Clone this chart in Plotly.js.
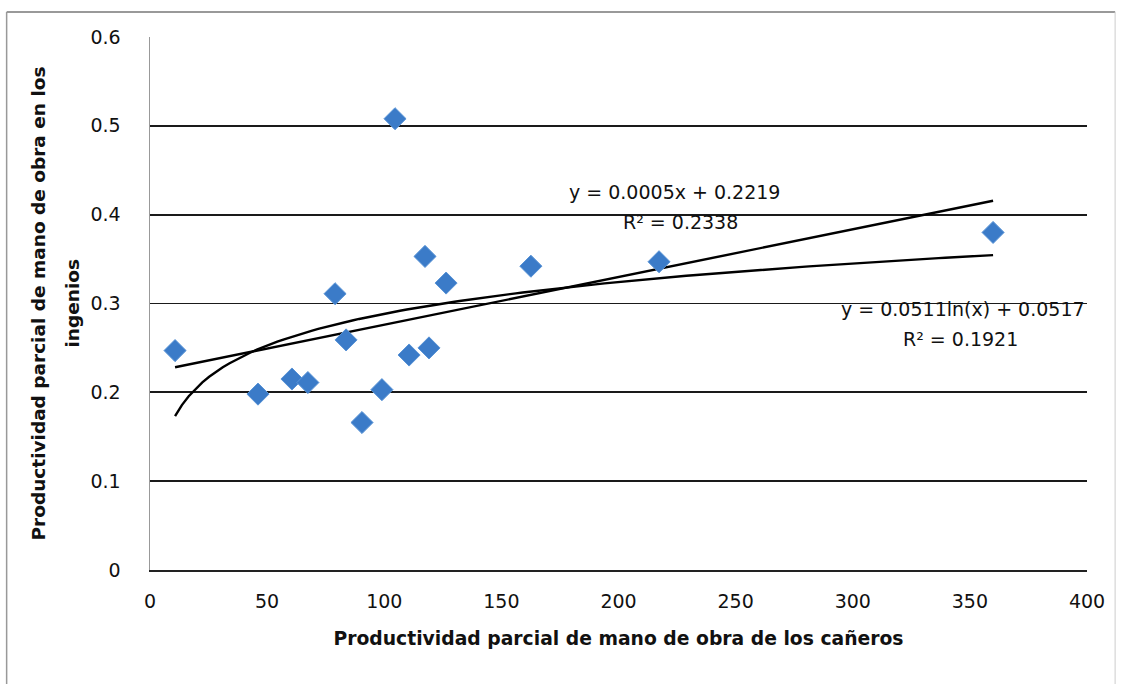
<!DOCTYPE html>
<html>
<head>
<meta charset="utf-8">
<script src="https://cdn.plot.ly/plotly-3.0.1.min.js"></script>
<style>
  html, body { margin: 0; padding: 0; background: #fff; }
  #chart { width: 1125px; height: 684px; }
</style>
</head>
<body>
<div id="chart"></div>
<script>
// Productividad parcial de mano de obra: cañeros (x) vs. ingenios (y)
const canerosX = [10.7, 46.1, 60.6, 67.4, 79.0, 83.7, 90.5, 99.0, 104.6, 110.6, 117.4, 119.1, 126.4, 162.6, 217.3, 359.9];
const ingeniosY = [0.247, 0.198, 0.215, 0.211, 0.311, 0.259, 0.166, 0.203, 0.508, 0.242, 0.353, 0.250, 0.323, 0.342, 0.347, 0.380];

const xTicks = [0, 50, 100, 150, 200, 250, 300, 350, 400];
const yTicks = [0, 0.1, 0.2, 0.3, 0.4, 0.5, 0.6];
const yTickLabels = ['0', '0.1', '0.2', '0.3', '0.4', '0.5', '0.6'];

const xTitle = 'Productividad parcial de mano de obra de los cañeros';
const yTitleLines = ['Productividad parcial de mano de obra en los', 'ingenios'];

const linearLabel = ['y = 0.0005x + 0.2219', 'R² = 0.2338'];
const logLabel = ['y = 0.0511ln(x) + 0.0517', 'R² = 0.1921'];

// Least-squares fit of y on u (u = x for linear, u = ln x for logarithmic)
function fit(u, y) {
  const n = u.length;
  const mu = u.reduce((a, b) => a + b, 0) / n;
  const my = y.reduce((a, b) => a + b, 0) / n;
  let sxy = 0, sxx = 0;
  for (let i = 0; i < n; i++) { sxy += (u[i] - mu) * (y[i] - my); sxx += (u[i] - mu) ** 2; }
  const b = sxy / sxx;
  return { slope: b, intercept: my - b * mu };
}

const xMin = Math.min(...canerosX), xMax = Math.max(...canerosX);
const lin = fit(canerosX, ingeniosY);
const lg = fit(canerosX.map(Math.log), ingeniosY);

const steps = 120;
const trendX = [];
for (let i = 0; i <= steps; i++) trendX.push(xMin + (xMax - xMin) * i / steps);
const linY = trendX.map(x => lin.intercept + lin.slope * x);
const logY = trendX.map(x => lg.intercept + lg.slope * Math.log(x));

const font = '"DejaVu Sans", sans-serif';
const ink = '#111';

const traces = [
  {
    x: trendX, y: linY, type: 'scatter', mode: 'lines',
    line: { color: '#000', width: 2.4 }, hoverinfo: 'skip', showlegend: false
  },
  {
    x: trendX, y: logY, type: 'scatter', mode: 'lines',
    line: { color: '#000', width: 2.4 }, hoverinfo: 'skip', showlegend: false
  },
  {
    x: canerosX, y: ingeniosY, type: 'scatter', mode: 'markers',
    marker: { symbol: 'diamond', size: 17, color: '#3b7bc8', line: { color: '#5a94d6', width: 1 } },
    showlegend: false
  }
];

const eqFont = { size: 19, family: font, color: ink };
const titleFont = { size: 18.5, family: font, color: ink };

const layout = {
  width: 1125, height: 684,
  margin: { l: 150, r: 38, t: 37, b: 114 },
  paper_bgcolor: '#fff', plot_bgcolor: '#fff',
  font: { family: font, color: ink },
  showlegend: false,
  xaxis: {
    range: [0, 400], tickvals: xTicks, ticktext: xTicks.map(String),
    showgrid: false, zeroline: false,
    showline: true, linecolor: '#222', linewidth: 1.5,
    ticks: '', tickfont: { size: 19, family: font, color: ink }, ticklabelstandoff: 14,
    title: { text: '<b>' + xTitle + '</b>',
             font: { size: 18.75, family: font, color: ink }, standoff: 20 }
  },
  yaxis: {
    range: [0, 0.6], tickvals: yTicks, ticktext: yTickLabels,
    showgrid: true, gridcolor: '#1a1a1a', gridwidth: 1.8, zeroline: false,
    showline: true, linecolor: '#999', linewidth: 1.5,
    ticks: '', tickfont: { size: 19, family: font, color: ink }, ticklabelstandoff: 24
  },
  annotations: [
    // y-axis title, one annotation per line
    { x: -0.1185, y: 0.5, xref: 'paper', yref: 'paper', xanchor: 'center', yanchor: 'middle',
      textangle: -90, text: '<b>' + yTitleLines[0] + '</b>', showarrow: false, font: titleFont },
    { x: -0.0832, y: 0.5, xref: 'paper', yref: 'paper', xanchor: 'center', yanchor: 'middle',
      textangle: -90, text: '<b>' + yTitleLines[1] + '</b>', showarrow: false, font: titleFont },
    // trendline equations
    { x: 224, y: 0.426, xref: 'x', yref: 'y', xanchor: 'center', yanchor: 'middle',
      text: linearLabel[0], showarrow: false, font: eqFont },
    { x: 226.5, y: 0.392, xref: 'x', yref: 'y', xanchor: 'center', yanchor: 'middle',
      text: linearLabel[1], showarrow: false, font: eqFont },
    { x: 347, y: 0.294, xref: 'x', yref: 'y', xanchor: 'center', yanchor: 'middle',
      text: logLabel[0], showarrow: false, font: eqFont },
    { x: 346, y: 0.260, xref: 'x', yref: 'y', xanchor: 'center', yanchor: 'middle',
      text: logLabel[1], showarrow: false, font: eqFont }
  ],
  shapes: [
    // outer chart frame: top, left and right edges
    { type: 'line', xref: 'paper', yref: 'paper', x0: -0.153, x1: 1.03, y0: 1.047, y1: 1.047,
      line: { color: '#777', width: 1.5 } },
    { type: 'line', xref: 'paper', yref: 'paper', x0: -0.153, x1: -0.153, y0: 1.047, y1: -0.22,
      line: { color: '#999', width: 1.5 } },
    { type: 'line', xref: 'paper', yref: 'paper', x0: 1.03, x1: 1.03, y0: 1.047, y1: -0.22,
      line: { color: '#ccc', width: 1 } }
  ]
};

Plotly.newPlot('chart', traces, layout, { staticPlot: true, displayModeBar: false });
</script>
</body>
</html>
